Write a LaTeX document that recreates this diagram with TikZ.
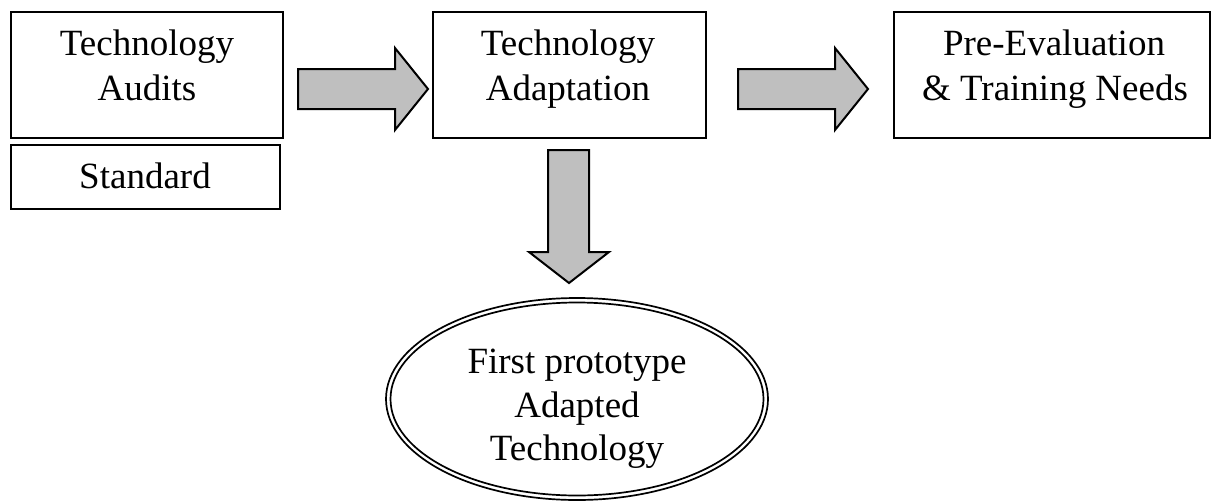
\documentclass[tikz,border=0pt]{standalone}
\usepackage{fontspec}
\setmainfont{Liberation Serif}
\begin{document}
\begin{tikzpicture}[x=1pt,y=-1pt,
  box/.style={draw=black, line width=2pt},
  label/.style={font=\fontsize{37}{45}\selectfont, anchor=base, inner sep=0pt},
  blockarrow/.style={draw=black, line width=2pt, fill=gray!50, line join=miter},
  outline/.style={draw=black, line width=1.7pt}]
\useasboundingbox (0,0) rectangle (1213,501);

% Boxes
\draw[box] (11,12) rectangle (283,138);
\draw[box] (11,145) rectangle (280,209);
\draw[box] (433,12) rectangle (706,138);
\draw[box] (894,12) rectangle (1210,138);

\node[label] (audits1) at (147,55) {Technology};
\node[label] (audits2) at (147,100) {Audits};
\node[label] (standard) at (145,188) {Standard};
\node[label] (adapt1) at (568,55) {Technology};
\node[label] (adapt2) at (568,100) {Adaptation};
\node[label] (needs1) at (1054,55) {Pre-Evaluation};
\node[label] (needs2) at (1055,100) {\& Training Needs};

% Block arrows
\draw[blockarrow] (298,69) -- (395,69) -- (395,48) -- (428,89) -- (395,130)
  -- (395,109) -- (298,109) -- cycle;
\draw[blockarrow] (738,69) -- (835,69) -- (835,48) -- (868,89) -- (835,130)
  -- (835,109) -- (738,109) -- cycle;
\draw[blockarrow] (548,150) -- (589,150) -- (589,252) -- (609,252) -- (569,283)
  -- (529,252) -- (548,252) -- cycle;

% Double-outlined ellipse
\draw[outline] (577,399) ellipse [x radius=191, y radius=101];
\draw[outline] (577,399) ellipse [x radius=186.5, y radius=96.5];
\node[label] (proto1) at (577,373) {First prototype};
\node[label] (proto2) at (577,417) {Adapted};
\node[label] (proto3) at (577,460) {Technology};
\end{tikzpicture}
\end{document}
